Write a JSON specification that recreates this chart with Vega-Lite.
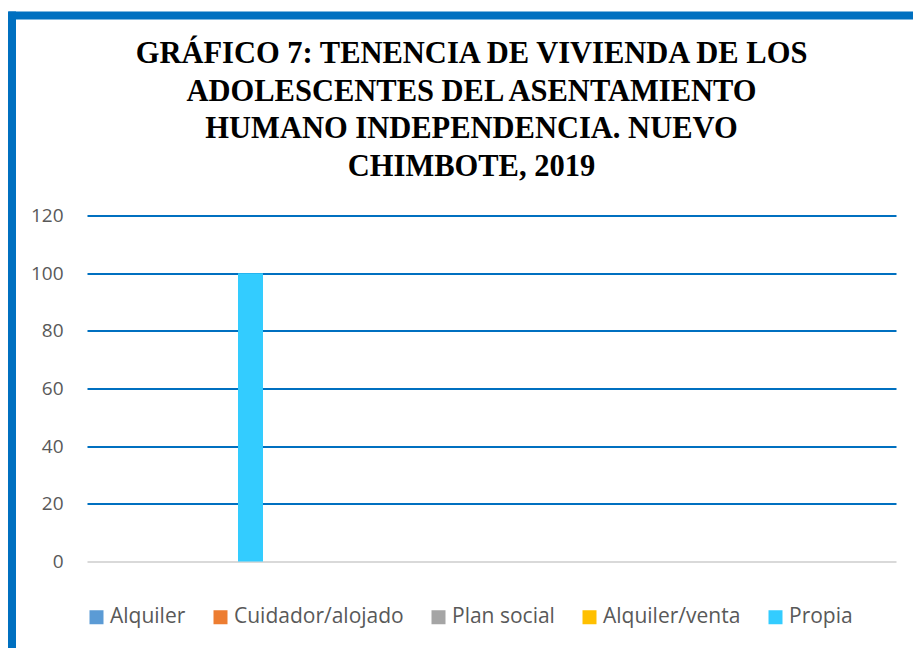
{
  "$schema": "https://vega.github.io/schema/vega-lite/v6.json",
  "autosize": {"type": "none"},
  "padding": {"left": 87, "top": 215.5, "right": 17, "bottom": 86.5},
  "width": 809,
  "height": 346,
  "background": "white",
  "title": {
    "text": ["GRÁFICO 7: TENENCIA DE VIVIENDA DE LOS", "ADOLESCENTES DEL ASENTAMIENTO", "HUMANO INDEPENDENCIA. NUEVO", "CHIMBOTE, 2019"],
    "font": "Liberation Serif",
    "fontSize": 30.5,
    "fontWeight": "bold",
    "color": "#000000",
    "anchor": "middle",
    "frame": "group",
    "baseline": "top",
    "lineHeight": 37.5,
    "offset": 0,
    "dy": 174,
    "dx": -20
  },
  "data": {
    "values": [
      {"tenencia": "Alquiler", "porcentaje": 0},
      {"tenencia": "Cuidador/alojado", "porcentaje": 0},
      {"tenencia": "Plan social", "porcentaje": 0},
      {"tenencia": "Alquiler/venta", "porcentaje": 0},
      {"tenencia": "Propia", "porcentaje": 100}
    ]
  },
  "layer": [
    {
      "mark": {"type": "bar"},
      "encoding": {
        "x": {
          "field": "tenencia",
          "type": "nominal",
          "scale": {
            "domain": ["Propia", "Alquiler", "Cuidador/alojado", "Plan social", "Alquiler/venta"],
            "paddingInner": 0.80867,
            "paddingOuter": 1,
            "align": 0.5778
          },
          "axis": null
        },
        "y": {
          "field": "porcentaje",
          "type": "quantitative",
          "scale": {"domain": [0, 120], "nice": false},
          "axis": {
            "orient": "left",
            "values": [0, 20, 40, 60, 80, 100, 120],
            "title": null,
            "grid": true,
            "gridColor": {"condition": {"test": "datum.value === 0", "value": "#D9D9D9"}, "value": "#0070C0"},
            "gridWidth": 1.8,
            "ticks": false,
            "domain": false,
            "labelFont": "Open Sans",
            "labelFontSize": 19,
            "labelColor": "#595959",
            "labelPadding": 24
          }
        },
        "color": {
          "field": "tenencia",
          "type": "nominal",
          "scale": {
            "domain": ["Alquiler", "Cuidador/alojado", "Plan social", "Alquiler/venta", "Propia"],
            "range": ["#5B9BD5", "#ED7D31", "#A5A5A5", "#FFC000", "#33CCFF"]
          },
          "legend": {
            "orient": "none",
            "legendX": -1,
            "legendY": 391,
            "direction": "horizontal",
            "columns": 5,
            "title": null,
            "padding": 0,
            "symbolType": "square",
            "symbolSize": 196,
            "symbolStrokeWidth": 0,
            "symbolOpacity": 1,
            "labelFont": "Open Sans",
            "labelFontSize": 21,
            "labelColor": "#595959",
            "labelOffset": 3,
            "labelLimit": 400,
            "columnPadding": 24
          }
        }
      }
    },
    {
      "mark": {"type": "point", "opacity": 0},
      "encoding": {
        "x": {
          "field": "porcentaje",
          "type": "quantitative",
          "scale": {"domain": [0, 100], "range": [-79, 840], "nice": false, "zero": false},
          "axis": {
            "orient": "top",
            "offset": 200.5,
            "domainColor": "#0070C0",
            "domainWidth": 8,
            "labels": false,
            "ticks": false,
            "grid": false,
            "title": null
          }
        },
        "y": {
          "field": "porcentaje",
          "type": "quantitative",
          "scale": {"domain": [0, 100], "range": [450, -204.5], "nice": false, "zero": false},
          "axis": {
            "orient": "left",
            "offset": 75.5,
            "domainColor": "#0070C0",
            "domainWidth": 8,
            "labels": false,
            "ticks": false,
            "grid": false,
            "title": null
          }
        }
      }
    }
  ],
  "resolve": {
    "scale": {"x": "independent", "y": "independent"},
    "axis": {"x": "independent", "y": "independent"}
  },
  "config": {
    "view": {"stroke": null}
  }
}
